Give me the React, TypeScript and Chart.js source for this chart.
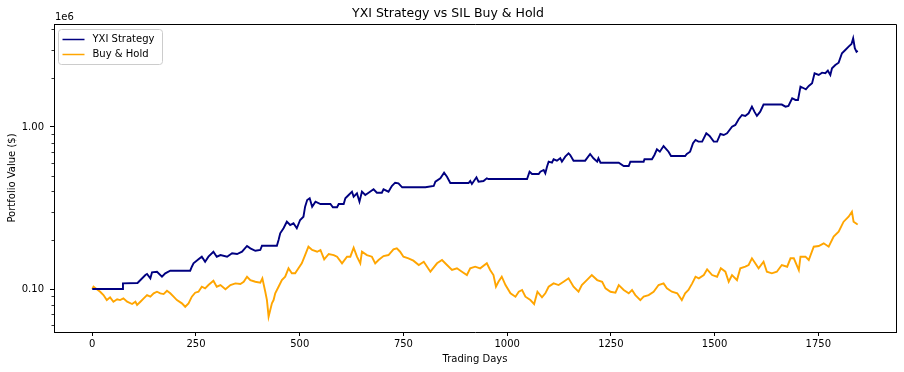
import React, { useEffect, useRef } from "react";
import { Chart, registerables } from "chart.js";

Chart.register(...registerables);

// ---------------- DATA ----------------
const chartTitle = "YXI Strategy vs SIL Buy & Hold";
const xAxisTitle = "Trading Days";
const yAxisTitle = "Portfolio Value ($)";
const yOffsetText = "1e6";
const seriesLabels = ["YXI Strategy", "Buy & Hold"];

const xTickValues = [0, 250, 500, 750, 1000, 1250, 1500, 1750];
const yMajorTicks = [100000, 1000000];
const yMajorLabels = ["0.10", "1.00"];
const yMinorTicks = [
  60000, 70000, 80000, 90000,
  200000, 300000, 400000, 500000, 600000, 700000, 800000, 900000,
  2000000, 3000000, 4000000,
];

const strategyDays = [
  0, 72, 74, 109, 112, 128, 132, 140, 144, 156, 168, 176, 188, 236, 240, 244, 256, 264, 272, 280,
  292, 300, 309, 325, 337, 349, 361, 373, 381, 393, 405, 409, 445, 449, 453, 461, 469, 477, 485, 493,
  501, 509, 513, 518, 524, 530, 538, 550, 574, 580, 590, 594, 606, 610, 618, 626, 630, 638, 644, 650,
  658, 666, 678, 686, 698, 702, 714, 722, 730, 738, 747, 803, 823, 827, 839, 848, 855, 863, 907, 911,
  915, 926, 931, 943, 951, 955, 1048, 1054, 1060, 1076, 1080, 1088, 1092, 1096, 1100, 1108, 1112, 1120, 1128, 1132,
  1140, 1148, 1152, 1160, 1188, 1200, 1208, 1217, 1220, 1225, 1269, 1281, 1293, 1297, 1329, 1331, 1349, 1355, 1361, 1368,
  1377, 1384, 1389, 1395, 1429, 1433, 1441, 1448, 1454, 1461, 1470, 1480, 1488, 1498, 1506, 1514, 1522, 1530, 1542, 1550,
  1558, 1566, 1574, 1582, 1590, 1596, 1602, 1610, 1618, 1662, 1671, 1678, 1687, 1695, 1701, 1707, 1715, 1720, 1727, 1735,
  1741, 1751, 1759, 1767, 1773, 1779, 1783, 1791, 1799, 1807, 1815, 1823, 1830, 1834, 1838, 1842, 1845,
];
const strategyValues = [
  100000, 100000, 108400, 108900, 110900, 122000, 123800, 116400, 126800, 127900, 119100, 125000, 129700, 129700, 137300, 144100, 152500, 158300, 147400, 158300,
  169900, 158300, 162100, 158300, 166100, 164500, 169900, 184300, 178300, 172300, 174100, 185100, 185100, 200600, 220700, 237000, 260300, 248400, 254500, 237000,
  266700, 279500, 322100, 354300, 363000, 322100, 345900, 334700, 334700, 319400, 319400, 334700, 334700, 363000, 380400, 398800, 371300, 389600, 345900, 398800,
  380400, 393000, 412500, 393000, 393000, 412500, 398800, 432300, 453100, 449300, 424500, 424500, 432300, 459600, 482400, 522300, 493400, 451000, 451000, 464200,
  444800, 489200, 459600, 464200, 482400, 477500, 477500, 529800, 512800, 512800, 529800, 542800, 517900, 568700, 610700, 602100, 631900, 619400, 641000, 610700,
  655700, 688200, 671800, 619400, 619400, 681300, 641000, 610700, 641000, 602100, 602100, 574400, 574400, 610700, 610700, 631900, 631900, 671800, 728400, 704000,
  763200, 728400, 704000, 662200, 662200, 681300, 704000, 793100, 831600, 811700, 811700, 914500, 880000, 811700, 811700, 905300, 892500, 914500, 1004000, 1029000,
  1116000, 1186000, 1170000, 1215000, 1335000, 1243000, 1170000, 1243000, 1375000, 1375000, 1335000, 1348000, 1504000, 1468000, 1468000, 1774000, 1734000, 1709000, 1791000, 1862000,
  2145000, 2094000, 2164000, 2145000, 2226000, 2094000, 2303000, 2414000, 2494000, 2850000, 2987000, 3131000, 3253000, 3528000, 3061000, 2916000, 2958000,
];

const holdDays = [
  0, 3, 11, 19, 27, 35, 43, 51, 60, 67, 75, 84, 96, 104, 108, 116, 124, 132, 140, 148,
  156, 164, 172, 180, 188, 196, 204, 216, 224, 232, 240, 248, 256, 264, 272, 280, 292, 300, 309, 321,
  333, 345, 357, 365, 373, 381, 393, 405, 410, 417, 421, 425, 429, 433, 437, 441, 449, 457, 465, 473,
  481, 489, 497, 505, 513, 521, 530, 542, 550, 559, 570, 582, 590, 602, 614, 622, 630, 638, 646, 650,
  662, 674, 682, 690, 702, 714, 726, 734, 742, 750, 762, 774, 787, 799, 807, 815, 831, 843, 855, 867,
  879, 891, 903, 911, 923, 935, 951, 959, 967, 973, 979, 987, 996, 1008, 1020, 1028, 1036, 1044, 1056, 1065,
  1073, 1084, 1092, 1100, 1112, 1124, 1136, 1148, 1160, 1172, 1180, 1192, 1204, 1217, 1229, 1237, 1249, 1261, 1269, 1281,
  1293, 1301, 1309, 1321, 1329, 1341, 1353, 1365, 1377, 1385, 1397, 1410, 1421, 1429, 1437, 1446, 1454, 1462, 1474, 1482,
  1494, 1506, 1515, 1526, 1534, 1542, 1554, 1562, 1574, 1582, 1590, 1598, 1606, 1618, 1626, 1638, 1650, 1662, 1675, 1683,
  1691, 1703, 1707, 1719, 1727, 1739, 1751, 1763, 1775, 1787, 1799, 1811, 1823, 1831, 1835, 1843, 1845,
];
const holdValues = [
  100000, 103300, 99600, 96200, 91800, 85500, 88900, 83500, 86400, 85500, 87600, 83500, 80800, 83500, 79700, 83500, 87600, 91800, 89700, 94100,
  96200, 94100, 93100, 97600, 94100, 89700, 85500, 81600, 77700, 81600, 89700, 94900, 96200, 103300, 101000, 105800, 112500, 103300, 105800, 99600,
  105800, 108400, 107400, 110900, 119100, 113600, 110900, 109400, 116400, 96200, 85500, 67500, 74200, 81600, 85500, 94100, 103300, 113600, 119100, 134200,
  125000, 125000, 134200, 144100, 162100, 182500, 174100, 169900, 174100, 152500, 164500, 162100, 158300, 144100, 158300, 158300, 179900, 158300, 144100, 169900,
  162100, 158300, 144100, 151000, 159800, 162100, 175700, 178300, 169900, 158300, 154700, 149600, 140700, 147400, 137300, 127900, 144100, 151000, 140700, 131000,
  134200, 127900, 122000, 134200, 137300, 134200, 144100, 131000, 122000, 103300, 110900, 119100, 105800, 94100, 89700, 96200, 98600, 89700, 85500, 80800,
  96200, 88900, 94100, 103300, 108400, 105800, 110900, 116400, 103300, 96200, 105800, 113600, 122000, 113600, 110900, 101000, 96200, 94900, 105800, 98600,
  94100, 98600, 91800, 85500, 89700, 91800, 96200, 105800, 108400, 101000, 96200, 94100, 85500, 94100, 98600, 108400, 119100, 116400, 122000, 132300,
  122000, 119100, 134200, 127900, 110900, 122000, 113600, 134200, 137300, 140700, 154700, 144100, 134200, 147400, 127900, 125000, 127900, 140700, 137300, 154700,
  154700, 131000, 158300, 158300, 151000, 182500, 184300, 191500, 182500, 210400, 225900, 260300, 279500, 300000, 260300, 251900, 250000,
];

const seriesColors = ["#000080", "#FFA500"];

// ---------------- CHART ----------------
const FONT = '"DejaVu Sans", "Liberation Sans", sans-serif';

const decorPlugin = {
  id: "decor",
  afterDraw(chart: any) {
    const { ctx, chartArea } = chart;
    const { left, right, top, bottom } = chartArea;
    const yScale = chart.scales.y;
    ctx.save();
    ctx.strokeStyle = "#000";
    ctx.lineWidth = 1;
    ctx.beginPath();
    ctx.moveTo(Math.round(left), Math.round(top) + 0.5);
    ctx.lineTo(Math.round(right) + 0.5, Math.round(top) + 0.5);
    ctx.lineTo(Math.round(right) + 0.5, Math.round(bottom));
    ctx.stroke();
    ctx.lineWidth = 0.8;
    for (const v of yMinorTicks) {
      const y = yScale.getPixelForValue(v);
      if (y < top - 0.5 || y > bottom + 0.5) continue;
      ctx.beginPath();
      ctx.moveTo(left - 2.5, Math.round(y) + 0.5);
      ctx.lineTo(left, Math.round(y) + 0.5);
      ctx.stroke();
    }
    ctx.fillStyle = "#000";
    ctx.font = `10px ${FONT}`;
    ctx.textAlign = "left";
    ctx.textBaseline = "middle";
    ctx.fillText(yOffsetText, left + 1, top - 7);

    const bx = left + 4.5, by = top + 5.5, bw = 104, bh = 35, r = 3;
    ctx.beginPath();
    ctx.moveTo(bx + r, by);
    ctx.lineTo(bx + bw - r, by);
    ctx.arcTo(bx + bw, by, bx + bw, by + r, r);
    ctx.lineTo(bx + bw, by + bh - r);
    ctx.arcTo(bx + bw, by + bh, bx + bw - r, by + bh, r);
    ctx.lineTo(bx + r, by + bh);
    ctx.arcTo(bx, by + bh, bx, by + bh - r, r);
    ctx.lineTo(bx, by + r);
    ctx.arcTo(bx, by, bx + r, by, r);
    ctx.closePath();
    ctx.fillStyle = "rgba(255,255,255,0.8)";
    ctx.fill();
    ctx.strokeStyle = "#cccccc";
    ctx.lineWidth = 1;
    ctx.stroke();
    chart.data.datasets.forEach((ds: any, i: number) => {
      const ly = by + 10 + i * 15;
      ctx.strokeStyle = ds.borderColor;
      ctx.lineWidth = 1.5;
      ctx.beginPath();
      ctx.moveTo(bx + 4, ly);
      ctx.lineTo(bx + 26, ly);
      ctx.stroke();
      ctx.fillStyle = "#000";
      ctx.font = `10px ${FONT}`;
      ctx.textAlign = "left";
      ctx.textBaseline = "middle";
      ctx.fillText(ds.label, bx + 34, ly);
    });
    ctx.restore();
  },
};

export default function App() {
  const canvasRef = useRef<HTMLCanvasElement | null>(null);

  useEffect(() => {
    if (!canvasRef.current) return;
    Chart.defaults.font.family = FONT;
    const strategyData = strategyDays.map((d, i) => ({ x: d, y: strategyValues[i] }));
    const holdData = holdDays.map((d, i) => ({ x: d, y: holdValues[i] }));

    const chart = new Chart(canvasRef.current, {
      type: "line",
      data: {
        datasets: [
          {
            label: seriesLabels[0],
            data: strategyData,
            borderColor: seriesColors[0],
            backgroundColor: seriesColors[0],
            borderWidth: 1.9,
            pointRadius: 0,
            tension: 0,
          },
          {
            label: seriesLabels[1],
            data: holdData,
            borderColor: seriesColors[1],
            backgroundColor: seriesColors[1],
            borderWidth: 1.9,
            pointRadius: 0,
            tension: 0,
          },
        ],
      },
      options: {
        animation: false,
        responsive: false,
        devicePixelRatio: 1,
        parsing: false as any,
        layout: { padding: { left: 0, right: 8, top: 0, bottom: 0 } },
        plugins: {
          legend: { display: false },
          tooltip: { enabled: false },
          title: {
            display: true,
            text: chartTitle,
            color: "#000",
            font: { size: 12.5, weight: "normal" as any, family: FONT },
            padding: { top: 6, bottom: 3 },
          },
        },
        scales: {
          x: {
            type: "linear",
            min: -92.25,
            max: 1937.25,
            afterBuildTicks: (scale: any) => {
              scale.ticks = xTickValues.map((v) => ({ value: v }));
            },
            afterFit: (scale: any) => {
              scale.height = 40;
            },
            ticks: {
              autoSkip: false,
              maxRotation: 0,
              color: "#000",
              padding: 2,
              font: { size: 10, family: FONT },
              callback: (v: any) => String(v),
            },
            grid: {
              drawOnChartArea: false,
              drawTicks: true,
              tickLength: 4,
              tickColor: "#000",
              tickWidth: 1,
            },
            border: { display: true, color: "#000", width: 1 },
            title: {
              display: true,
              text: xAxisTitle,
              color: "#000",
              font: { size: 10, family: FONT },
              padding: { top: 0, bottom: 7 },
            },
          },
          y: {
            type: "logarithmic",
            min: 54300,
            max: 4320000,
            afterBuildTicks: (scale: any) => {
              scale.ticks = [...yMinorTicks, ...yMajorTicks]
                .sort((a, b) => a - b)
                .map((v) => ({ value: v }));
            },
            afterFit: (scale: any) => {
              scale.width = 54;
            },
            ticks: {
              autoSkip: false,
              color: "#000",
              padding: 6,
              font: { size: 10, family: FONT },
              callback: (v: any) => {
                const idx = yMajorTicks.indexOf(Number(v));
                return idx >= 0 ? yMajorLabels[idx] : "";
              },
            },
            grid: {
              drawOnChartArea: false,
              drawTicks: true,
              tickLength: 4,
              tickWidth: 1,
              tickColor: (ctx: any) =>
                ctx.tick && yMajorTicks.includes(ctx.tick.value) ? "#000" : "rgba(0,0,0,0)",
            },
            border: { display: true, color: "#000", width: 1 },
            title: {
              display: true,
              text: yAxisTitle,
              color: "#000",
              font: { size: 10, family: FONT },
              padding: { top: 6, bottom: 0 },
            },
          },
        },
      },
      plugins: [decorPlugin],
    });
    return () => chart.destroy();
  }, []);

  return (
    <div style={{ position: "absolute", left: 0, top: 0, width: 904, height: 372, background: "#fff" }}>
      <canvas ref={canvasRef} width={904} height={372} style={{ display: "block" }} />
    </div>
  );
}
